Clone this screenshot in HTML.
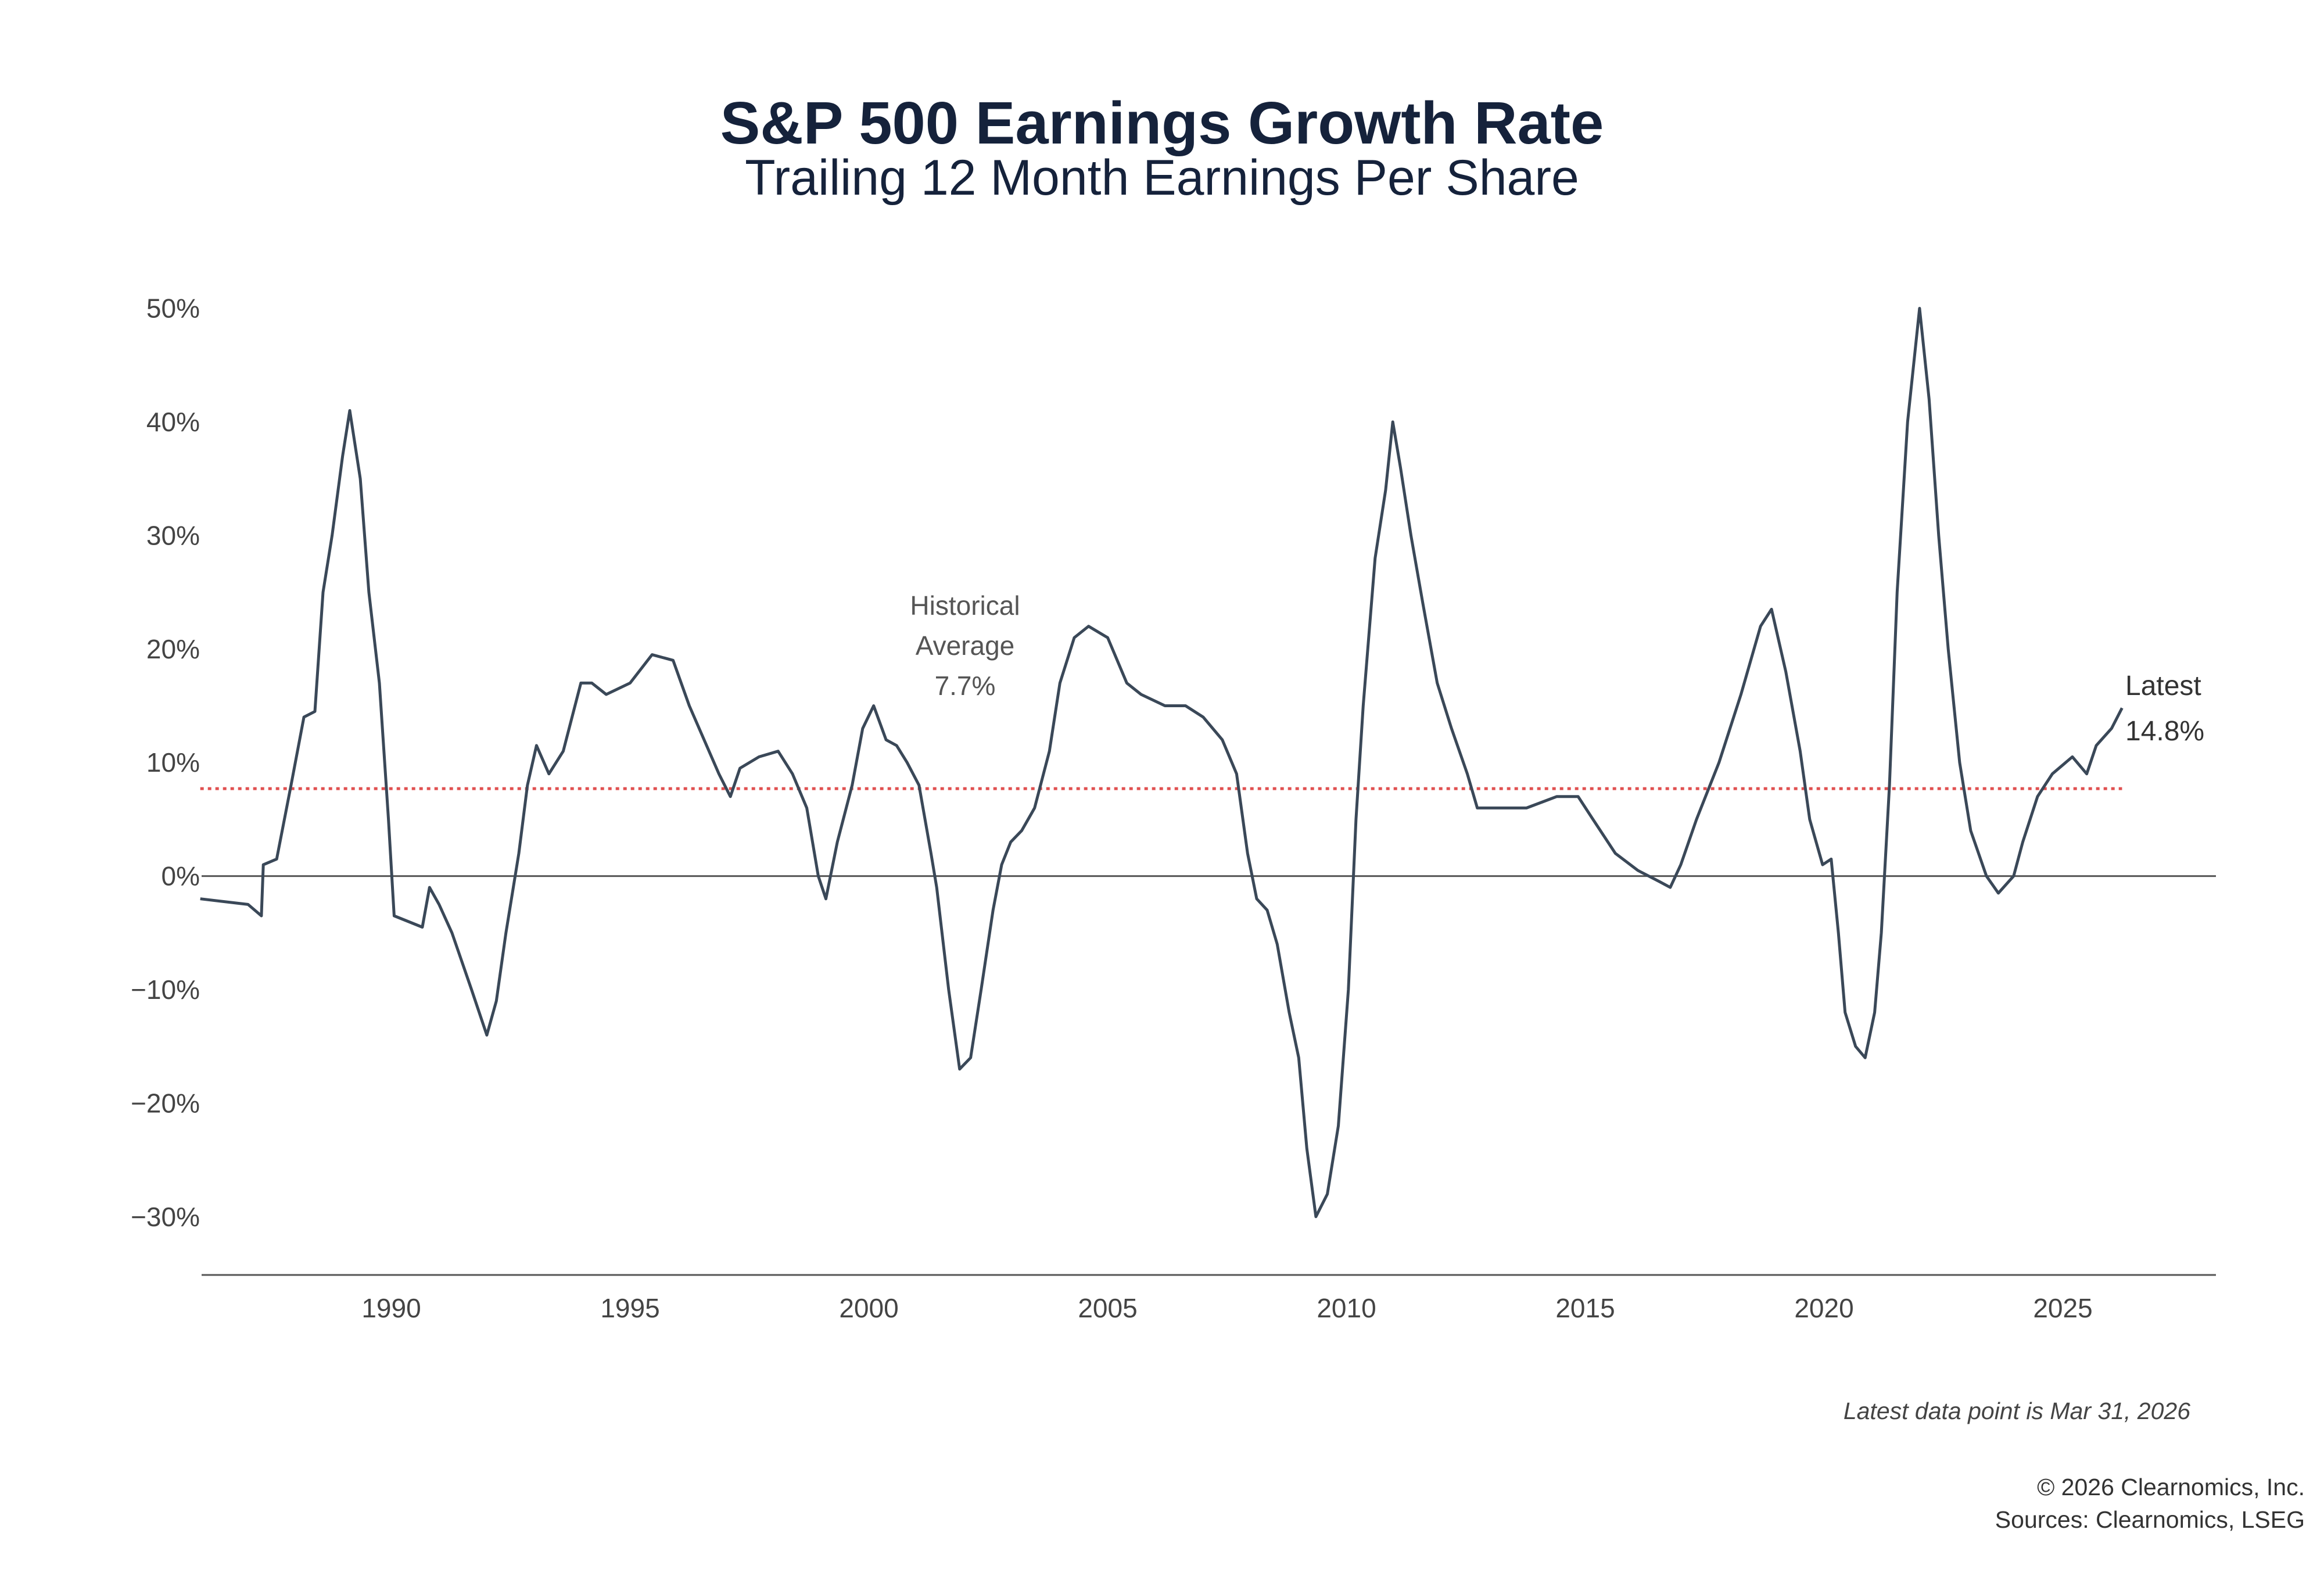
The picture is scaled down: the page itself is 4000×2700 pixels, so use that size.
<!DOCTYPE html>
<html><head><meta charset="utf-8">
<style>
html,body{margin:0;padding:0;background:#fff;}
svg{display:block;}
text{font-family:"Liberation Sans",sans-serif;}
</style></head>
<body>
<svg id="chart" width="4000" height="2700" viewBox="0 0 4000 2700" xmlns="http://www.w3.org/2000/svg">
<rect width="4000" height="2700" fill="#fff"/>
<text x="2000" y="247" text-anchor="middle" font-size="103" font-weight="bold" fill="#15223b">S&amp;P 500 Earnings Growth Rate</text>
<text x="2000" y="335" text-anchor="middle" font-size="86" fill="#15223b">Trailing 12 Month Earnings Per Share</text>
<g id="axes"></g>
<g id="marks"></g>
<text text-anchor="middle" font-size="46" fill="#555" x="1661"><tspan x="1661" y="1058">Historical</tspan><tspan x="1661" y="1127">Average</tspan><tspan x="1661" y="1196">7.7%</tspan></text>
<text font-size="48" fill="#333"><tspan x="3658" y="1196">Latest</tspan><tspan x="3658" y="1274">14.8%</tspan></text>
<text x="3770" y="2442" text-anchor="end" font-size="41" font-style="italic" fill="#444">Latest data point is Mar 31, 2026</text>
<text x="3967" y="2573" text-anchor="end" font-size="41" fill="#333">© 2026 Clearnomics, Inc.</text>
<text x="3967" y="2629" text-anchor="end" font-size="41" fill="#333">Sources: Clearnomics, LSEG</text>
</svg>
<script>
const years = [1986.0,1987.0,1987.28,1987.32,1987.6,1987.9,1988.17,1988.4,1988.57,1988.76,1988.98,1989.13,1989.35,1989.53,1989.75,1989.94,1990.06,1990.65,1990.8,1991.0,1991.27,1991.68,1992.0,1992.2,1992.4,1992.67,1992.85,1993.04,1993.3,1993.6,1993.97,1994.2,1994.5,1995.0,1995.46,1995.9,1996.24,1996.55,1996.86,1997.1,1997.3,1997.7,1998.1,1998.4,1998.7,1998.94,1999.1,1999.34,1999.65,1999.87,2000.1,2000.36,2000.58,2000.8,2001.05,2001.3,2001.42,2001.67,2001.9,2002.13,2002.35,2002.6,2002.78,2002.97,2003.2,2003.47,2003.78,2004.0,2004.3,2004.6,2005.0,2005.4,2005.7,2006.2,2006.63,2007.0,2007.4,2007.7,2007.93,2008.12,2008.34,2008.55,2008.8,2009.0,2009.17,2009.36,2009.6,2009.83,2010.04,2010.2,2010.35,2010.6,2010.82,2010.97,2011.13,2011.35,2011.6,2011.9,2012.2,2012.53,2012.74,2013.15,2013.77,2014.4,2014.85,2015.16,2015.63,2016.1,2016.56,2016.78,2017.0,2017.33,2017.8,2018.26,2018.67,2018.9,2019.2,2019.5,2019.7,2019.97,2020.15,2020.3,2020.44,2020.66,2020.86,2021.06,2021.2,2021.37,2021.53,2021.75,2022.0,2022.2,2022.4,2022.6,2022.84,2023.07,2023.4,2023.65,2023.97,2024.16,2024.47,2024.78,2025.2,2025.5,2025.7,2026.02,2026.24];
const growth = [-2,-2.5,-3.5,1,1.5,8,14,14.5,25,30,37,41,35,25,17,5,-3.5,-4.5,-1,-2.5,-5,-10,-14,-11,-5,2,8,11.5,9,11,17,17,16,17,19.5,19,15,12,9,7,9.5,10.5,11,9,6,0,-2,3,8,13,15,12,11.5,10,8,2,-1,-10,-17,-16,-10,-3,1,3,4,6,11,17,21,22,21,17,16,15,15,14,12,9,2,-2,-3,-6,-12,-16,-24,-30,-28,-22,-10,5,15,28,34,40,36,30,24,17,13,9,6,6,6,7,7,5,2,0.5,-0.5,-1,1,5,10,16,22,23.5,18,11,5,1,1.5,-5,-12,-15,-16,-12,-5,8,25,40,50,42,30,20,10,4,0,-1.5,0,3,7,9,10.5,9,11.5,13,14.8];
const yTicks = [50,40,30,20,10,0,-10,-20,-30];
const xTicks = [1990,1995,2000,2005,2010,2015,2020,2025];
const average = [7.7];

const X = y => 673.5 + (y - 1990) * 82.2;
const Y = v => 1507.6 - v * 19.54;
const NS = "http://www.w3.org/2000/svg";
const axes = document.getElementById('axes');
const marks = document.getElementById('marks');
function mk(tag, attrs, parent){const e=document.createElementNS(NS,tag);for(const k in attrs)e.setAttribute(k,attrs[k]);parent.appendChild(e);return e;}

yTicks.forEach(v=>{
  const t = mk('text',{x:344,y:Y(v)+16,'text-anchor':'end','font-size':46,fill:'#444'},axes);
  t.textContent = (v<0?'\u2212'+Math.abs(v):v)+'%';
  
  
});
xTicks.forEach(yr=>{
  const t = mk('text',{x:X(yr),y:2267,'text-anchor':'middle','font-size':46,fill:'#444'},axes);
  t.textContent = yr;
  
  
});
const base = mk('line',{x1:347,x2:3814,y1:2194,y2:2194,stroke:'#555','stroke-width':3},axes);


const zero = mk('line',{x1:347,x2:3814,y1:Y(0),y2:Y(0),stroke:'#555','stroke-width':3},axes);



const avg = mk('line',{x1:X(years[0]),x2:X(years[years.length-1]),y1:Y(average[0]),y2:Y(average[0]),stroke:'#e05050','stroke-width':5,'stroke-dasharray':'6 7'},marks);



const d = years.map((yr,i)=>(i?'L':'M')+X(yr).toFixed(1)+','+Y(growth[i]).toFixed(1)).join(' ');
const line = mk('path',{d:d,fill:'none',stroke:'#3a4858','stroke-width':5,'stroke-linejoin':'round'},marks);


</script>
</body></html>
